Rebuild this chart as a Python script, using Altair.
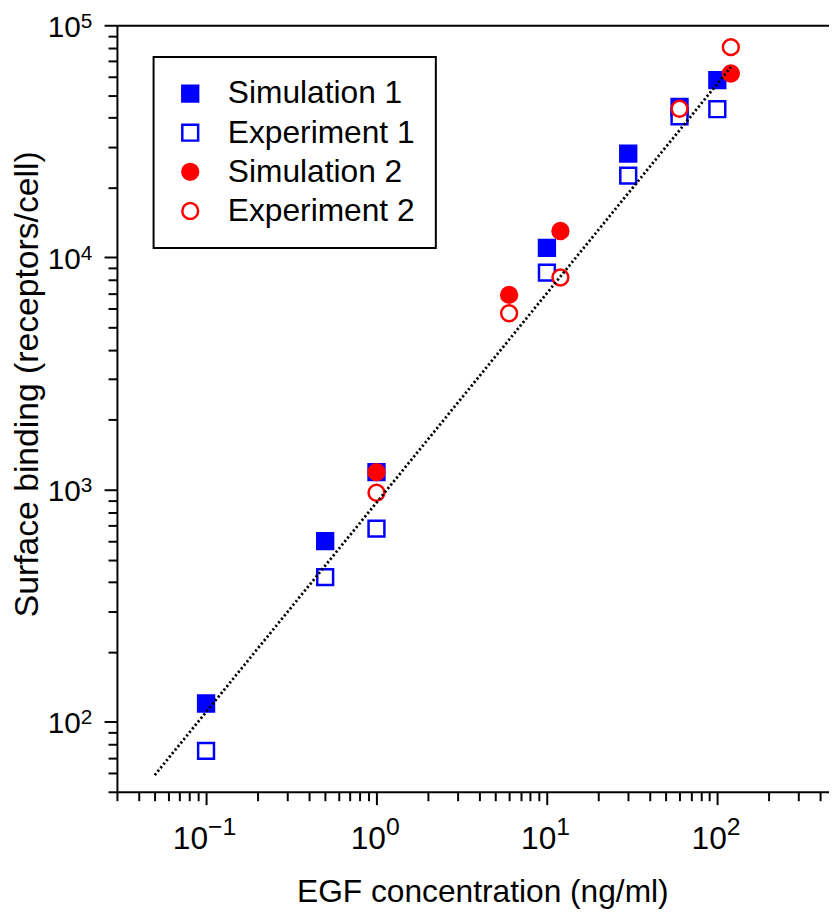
import altair as alt
import pandas as pd

# ---- data ----
sim1_x = [0.1, 0.5, 1, 10, 30, 60, 100]
sim1_y = [120, 600, 1190, 11000, 28000, 44500, 58000]
exp1_x = [0.1, 0.5, 1, 10, 30, 60, 100]
exp1_y = [75, 420, 680, 8600, 22500, 40500, 43500]
sim2_x = [1, 6, 12, 120]
sim2_y = [1190, 6900, 13000, 62000]
exp2_x = [1, 6, 12, 60, 120]
exp2_y = [970, 5750, 8200, 43700, 80500]
fit_x = [0.05, 120]
fit_y = [59, 66000]

series_names = ["Simulation 1", "Experiment 1", "Simulation 2", "Experiment 2"]
fill_colors = ["#0000ff", "#ffffff", "#ff0000", "#ffffff"]
stroke_colors = ["#0000ff", "#0000ff", "#ff0000", "#ff0000"]
shapes = ["square", "square", "circle", "circle"]
sizes = [256, 256, 205, 205]

x_major = [0.1, 1, 10, 100]
x_minor = [0.03, 0.04, 0.05, 0.06, 0.07, 0.08, 0.09,
           0.2, 0.3, 0.4, 0.5, 0.6, 0.7, 0.8, 0.9,
           2, 3, 4, 5, 6, 7, 8, 9,
           20, 30, 40, 50, 60, 70, 80, 90,
           200, 300, 400]
y_major = [100, 1000, 10000, 100000]
y_minor = [50, 60, 70, 80, 90,
           200, 300, 400, 500, 600, 700, 800, 900,
           2000, 3000, 4000, 5000, 6000, 7000, 8000, 9000,
           20000, 30000, 40000, 50000, 60000, 70000, 80000, 90000]

rows = []
for name, xs, ys in [("Simulation 1", sim1_x, sim1_y), ("Experiment 1", exp1_x, exp1_y),
                     ("Simulation 2", sim2_x, sim2_y), ("Experiment 2", exp2_x, exp2_y)]:
    for a, b in zip(xs, ys):
        rows.append({"x": a, "y": b, "series": name})
pts = pd.DataFrame(rows)
fit = pd.DataFrame({"x": fit_x, "y": fit_y})

FONT = "Liberation Sans"
xscale = alt.Scale(type="log", domain=[0.03, 452], nice=False)
yscale = alt.Scale(type="log", domain=[50, 100000], nice=False)

common = dict(grid=False, labelFlush=False, labelOverlap=False, labelBound=False,
              tickColor="black", tickWidth=2, domainColor="black", domainWidth=2,
              labelFont=FONT, labelColor="black", titleFont=FONT, titleColor="black",
              titleFontWeight="normal")

x_off = alt.condition("datum.value < 0.5", alt.value(1.5), alt.value(9))

# major ticks + "10" labels + titles
x_main = alt.Axis(orient="bottom", values=x_major, tickSize=13, labelExpr="'10'",
                  labelAlign="right", labelBaseline="alphabetic", labelPadding=44,
                  labelFontSize=32, labelOffset=x_off,
                  title="EGF concentration (ng/ml)", titleFontSize=32,
                  titleBaseline="alphabetic", titleAlign="center", titleX=369, titleY=111,
                  **common)
y_main = alt.Axis(orient="left", values=y_major, tickSize=13, labelExpr="'10'",
                  labelAlign="right", labelBaseline="alphabetic", labelPadding=24,
                  labelFontSize=30, labelOffset=11,
                  title="Surface binding (receptors/cell)", titleFontSize=34,
                  titleBaseline="alphabetic", titleAlign="center", titleAngle=270,
                  titleX=-80, titleY=362,
                  **common)
# minor ticks
x_min_ax = alt.Axis(orient="bottom", values=x_minor, tickSize=9, labels=False,
                    domain=False, title=None, **common)
y_min_ax = alt.Axis(orient="left", values=y_minor, tickSize=9, labels=False,
                    domain=False, title=None, **common)
# exponents
x_exp = alt.Axis(orient="bottom", values=x_major, tickSize=13, tickOpacity=0,
                 labelExpr="replace(toString(round(log(datum.value)/LN10)), '-', '\u2212')",
                 labelAlign="left", labelBaseline="alphabetic", labelPadding=30.5,
                 labelFontSize=25, labelOffset=x_off, domain=False, title=None, **common)
y_exp = alt.Axis(orient="left", values=y_major, tickSize=13, tickOpacity=0,
                 labelExpr="toString(round(log(datum.value)/LN10))",
                 labelAlign="left", labelBaseline="alphabetic", labelPadding=24,
                 labelFontSize=21, labelOffset=2, domain=False, title=None, **common)
# top frame line
x_top = alt.Axis(orient="top", labels=False, ticks=False, domain=True, title=None, **common)

points = alt.Chart(pts).mark_point(strokeWidth=2.5, opacity=1).encode(
    x=alt.X("x:Q", scale=xscale, axis=x_main),
    y=alt.Y("y:Q", scale=yscale, axis=y_main),
    fill=alt.Fill("series:N", scale=alt.Scale(domain=series_names, range=fill_colors),
                  legend=alt.Legend(title=None)),
    stroke=alt.Stroke("series:N", scale=alt.Scale(domain=series_names, range=stroke_colors),
                      legend=alt.Legend(title=None)),
    shape=alt.Shape("series:N", scale=alt.Scale(domain=series_names, range=shapes),
                    legend=alt.Legend(title=None)),
    size=alt.Size("series:N", scale=alt.Scale(domain=series_names, range=sizes),
                  legend=alt.Legend(title=None)),
)

line = alt.Chart(fit).mark_line(color="black", strokeWidth=2.8, strokeDash=[2.2, 2.4]).encode(
    x=alt.X("x:Q", scale=xscale, axis=x_min_ax),
    y=alt.Y("y:Q", scale=yscale, axis=y_min_ax),
)

exp_layer = alt.Chart(fit).mark_point(opacity=0).encode(
    x=alt.X("x:Q", scale=xscale, axis=x_exp),
    y=alt.Y("y:Q", scale=yscale, axis=y_exp),
)

top_layer = alt.Chart(fit).mark_point(opacity=0).encode(
    x=alt.X("x:Q", scale=xscale, axis=x_top),
    y=alt.Y("y:Q", scale=yscale, axis=None),
)

chart = alt.layer(points, line, exp_layer, top_layer).resolve_axis(
    x="independent", y="independent"
).properties(
    width=719, height=774,
    autosize=alt.AutoSizeParams(type="none"),
    padding={"left": 110, "top": 13, "right": 0, "bottom": 122},
).configure_view(strokeWidth=0).configure_legend(
    orient="none", legendX=37, legendY=32, padding=21,
    strokeColor="black", strokeWidth=2, fillColor="white",
    labelFont=FONT, labelFontSize=32, labelColor="black", labelLimit=0,
    labelOffset=22, rowPadding=7.5, symbolStrokeWidth=2.5,
)

chart.save("out.html", embed_options={"renderer": "svg", "actions": False})
